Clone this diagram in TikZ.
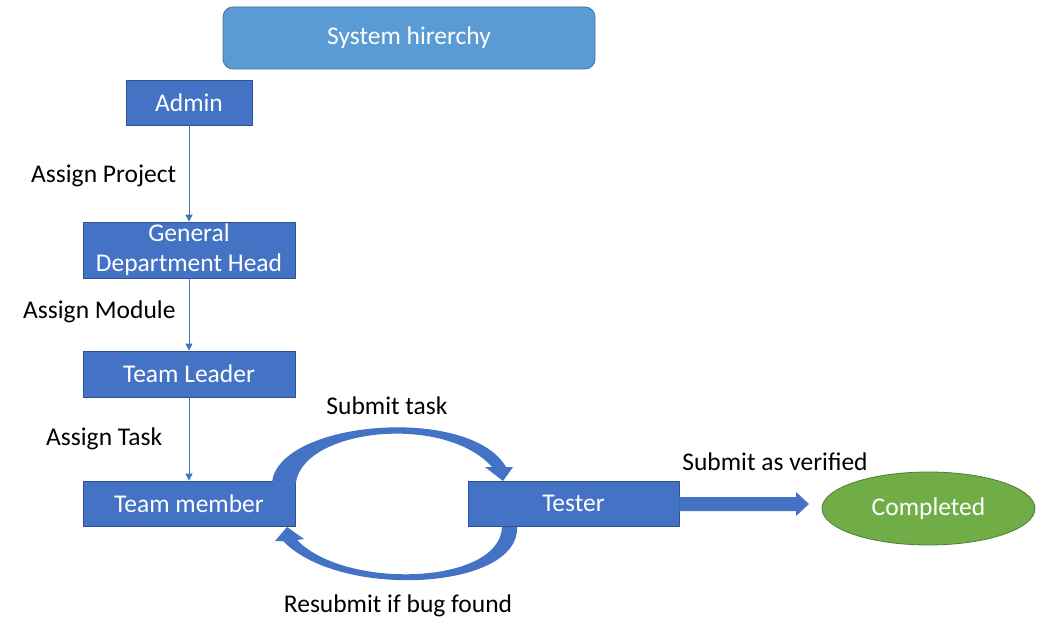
\documentclass[tikz,border=0pt]{standalone}
\usepackage{fontspec}
\setmainfont{Carlito}
\usetikzlibrary{arrows.meta,shapes.geometric}
\definecolor{boxfill}{HTML}{4472C4}
\definecolor{boxline}{HTML}{2F528F}
\definecolor{sysfill}{HTML}{5B9BD5}
\definecolor{sysline}{HTML}{41719C}
\definecolor{okfill}{HTML}{70AD47}
\definecolor{okline}{HTML}{507E32}
\begin{document}
\begin{tikzpicture}[x=1pt,y=-1pt,
  txt/.style={font=\fontsize{25.5}{30}\selectfont, inner sep=0pt},
  box/.style={draw=boxline, fill=boxfill, text=white, line width=0.8pt, inner sep=0pt,
    font=\fontsize{25.5}{30}\selectfont, align=center},
  thin/.style={draw=boxfill, line width=0.9pt, -{Triangle[width=7pt,length=7pt]}},
  bigarrow/.style={fill=boxfill, draw=none}]
\useasboundingbox (0,0) rectangle (1041,631);
\fill[white] (0,0) rectangle (1041,631);
\node[box, draw=sysline, fill=sysfill, rounded corners=10pt, minimum width=372pt, minimum height=62pt] (sys) at (409,38) {System hirerchy};
\node[box, minimum width=126pt, minimum height=45pt] (admin) at (189,102.5) {Admin};
\node[box, minimum width=212pt, minimum height=56pt, text depth=4pt] (gdh) at (189,250) {General\\Department Head};
\node[box, minimum width=212pt, minimum height=46pt] (tl) at (189,374) {Team Leader};
\node[box, minimum width=212pt, minimum height=45pt] (tm) at (189,503.5) {Team member};
\node[box, minimum width=211pt, minimum height=45pt] (tester) at (573.5,503.5) {Tester};
\node[ellipse, draw=okline, fill=okfill, text=white, line width=0.8pt, inner sep=0pt,
  minimum width=213pt, minimum height=73pt, font=\fontsize{25.5}{30}\selectfont] (done) at (928.5,508.5) {Completed};
\draw[thin] (admin) -- (gdh);
\draw[thin] (gdh) -- (tl);
\draw[thin] (tl) -- (tm);
\node[txt, anchor=west] (l1) at (31,176) {Assign Project};
\node[txt, anchor=west] (l2) at (23,312) {Assign Module};
\node[txt, anchor=west] (l3) at (46,439) {Assign Task};
\node[txt] (l4) at (387,406) {Submit task};
\node[txt] (l5) at (775,462) {Submit as verified};
\node[txt] (l6) at (398,606) {Resubmit if bug found};
% block arrow tester -> completed
\fill[bigarrow] (tester.east |- 0,497) -- (796,497) -- (796,492) -- (809,504) -- (796,516) -- (796,511) -- (tester.east |- 0,511) -- cycle;
% curved arrow: team member -> tester
\fill[bigarrow] (272,482) .. controls (280,420) and (470,405) .. (506,467) -- (513,467) -- (503,481) -- (485,467) -- (492,467) .. controls (445,414) and (305,428) .. (296,482) -- cycle;
% curved arrow: tester -> team member
\fill[bigarrow] (517,527) .. controls (520,590) and (340,600) .. (283,541) -- (275,541) -- (287,527) -- (304,539) -- (297,540) .. controls (345,590) and (500,585) .. (502,527) -- cycle;
\end{tikzpicture}
\end{document}
